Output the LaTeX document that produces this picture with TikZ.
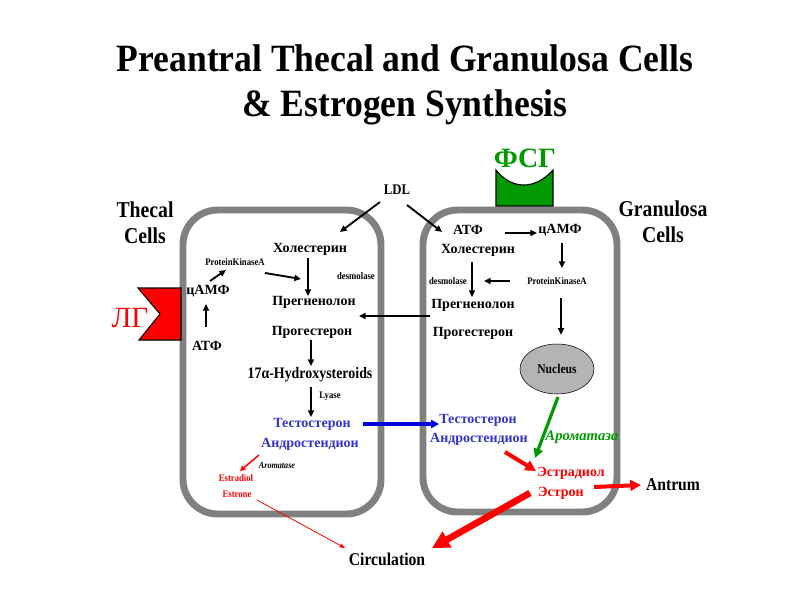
\documentclass[tikz,border=0pt]{standalone}
\usepackage{fontspec}
\setmainfont{Liberation Serif}
\newfontfamily\narrowfont[FakeStretch=0.87]{Liberation Serif}
\newfontfamily\titlefont[FakeStretch=0.92]{Liberation Serif}
\usetikzlibrary{arrows.meta,calc,shapes.geometric}
\definecolor{cellgray}{HTML}{808080}
\definecolor{hormred}{HTML}{FF0000}
\definecolor{fshgreen}{HTML}{009900}
\definecolor{steroidblue}{HTML}{3333CC}
\definecolor{arrowblue}{HTML}{0000DD}
\definecolor{nucgray}{HTML}{B4B4B4}
\tikzset{
  ru/.style={inner sep=0pt,font=\bfseries\fontsize{10.5}{12}\selectfont},
  lat/.style={inner sep=0pt,font=\narrowfont\bfseries\fontsize{12}{13}\selectfont},
  tinylat/.style={inner sep=0pt,font=\narrowfont\bfseries\fontsize{7.5}{8}\selectfont},
  heading/.style={inner sep=0pt,align=center,
                  font=\narrowfont\bfseries\fontsize{17}{19.5}\selectfont},
  cell/.style={draw=cellgray,line width=5.2pt,rounded corners=26pt},
  arr/.style={-{Triangle[length=5pt,width=4.5pt]},line width=1.4pt},
  bluearr/.style={-{Triangle[length=6pt,width=6pt]},line width=2.4pt,
                  draw=arrowblue},
  greenarr/.style={-{Triangle[length=7pt,width=7pt]},line width=2.4pt,
                   draw=fshgreen},
  redarr/.style={-{Triangle[length=8pt,width=8pt]},line width=3pt,
                 draw=hormred},
  bigredarr/.style={-{Triangle[length=13pt,width=13pt]},line width=5pt,
                    draw=hormred},
  thinredarr/.style={-{Triangle[length=4pt,width=3pt]},line width=0.6pt,
                     draw=hormred}
}
\begin{document}
\begin{tikzpicture}[x=0.75pt,y=-0.75pt]
  \useasboundingbox (0,0) rectangle (800,600);

  % title
  \node[align=center,inner sep=0pt,
        font=\titlefont\bfseries\fontsize{29}{33.75}\selectfont]
    (title) at (405,85) {Preantral Thecal and Granulosa Cells\\
                         \& Estrogen Synthesis};

  % the two cells
  \draw[cell] (183,210) rectangle (381,514);
  \draw[cell] (423,210) rectangle (617,512);
  \node[heading] (thecal) at (145,223) {Thecal\\Cells};
  \node[heading] (granulosa) at (663,222) {Granulosa\\Cells};

  % receptors
  \draw[fill=hormred,line width=0.8pt] (138,288) -- (181,288) -- (181,340)
    -- (139,340) -- (160,314) -- cycle;
  \node[inner sep=0pt,text=hormred,font=\fontsize{22}{22}\selectfont]
    (lh) at (130,318) {ЛГ};
  \draw[fill=fshgreen,line width=0.8pt] (496,206) -- (496,170)
    .. controls (512,190) and (535,190) .. (553,170) -- (553,206) -- cycle;
  \node[inner sep=0pt,text=fshgreen,font=\bfseries\fontsize{21}{21}\selectfont]
    (fsh) at (525,158) {ФСГ};

  \node[lat,font=\narrowfont\bfseries\fontsize{11}{12}\selectfont]
    (ldl) at (397,190) {LDL};

  % thecal cell
  \node[tinylat] (lpka) at (235,262) {ProteinKinaseA};
  \node[ru] (lcamp) at (208,291) {цАМФ};
  \node[ru] (latp) at (207,346) {АТФ};
  \node[ru] (lchol) at (310,249) {Холестерин};
  \node[tinylat] (ldes) at (356,276) {desmolase};
  \node[ru] (lpreg) at (314,302) {Прегненолон};
  \node[ru] (lprog) at (312,332) {Прогестерон};
  \node[lat] (lhyd) at (310,375) {17α-Hydroxysteroids};
  \node[tinylat] (llyase) at (330,396) {Lyase};
  \node[ru,text=steroidblue] (ltest) at (312,424) {Тестостерон};
  \node[ru,text=steroidblue] (landro) at (310,444) {Андростендион};
  \node[inner sep=0pt,font=\narrowfont\bfseries\itshape\fontsize{7}{8}\selectfont]
    (laro) at (277,465) {Aromatase};
  \node[inner sep=0pt,text=hormred,
        font=\narrowfont\bfseries\fontsize{7.5}{8}\selectfont]
    (lestd) at (236,478) {Estradiol};
  \node[inner sep=0pt,text=hormred,
        font=\narrowfont\bfseries\fontsize{7.5}{8}\selectfont]
    (lestn) at (237,494) {Estrone};

  % granulosa cell
  \node[ru] (ratp) at (468,230) {АТФ};
  \node[ru] (rcamp) at (560,230) {цАМФ};
  \node[ru] (rchol) at (478,250) {Холестерин};
  \node[tinylat] (rpka) at (557,281) {ProteinKinaseA};
  \node[tinylat] (rdes) at (448,281) {desmolase};
  \node[ru] (rpreg) at (473,305) {Прегненолон};
  \node[ru] (rprog) at (473,333) {Прогестерон};
  \node[ellipse,draw,fill=nucgray,minimum width=55.5pt,minimum height=37.5pt,
        inner sep=0pt,font=\narrowfont\bfseries\fontsize{10}{12}\selectfont]
    (nucleus) at (557,369) {Nucleus};
  \node[inner sep=0pt,text=fshgreen,
        font=\bfseries\itshape\fontsize{11}{12}\selectfont]
    (raro) at (582,437) {Ароматаза};
  \node[ru,text=steroidblue] (rtest) at (478,420) {Тестостерон};
  \node[ru,text=steroidblue] (randro) at (479,439) {Андростендион};
  \node[ru,text=hormred] (restd) at (571,473) {Эстрадиол};
  \node[ru,text=hormred] (restn) at (561,493) {Эстрон};

  \node[inner sep=0pt,font=\narrowfont\bfseries\fontsize{13.5}{14}\selectfont]
    (antrum) at (673,485) {Antrum};
  \node[inner sep=0pt,font=\narrowfont\bfseries\fontsize{13.5}{14}\selectfont]
    (circ) at (387,559) {Circulation};

  % connectors, thecal side
  \draw[arr] ($(ldl)+(-17,12)$) -- ($(lchol)+(30,-17)$);
  \draw[arr] ($(ldl)+(10,15)$) -- ($(rchol)+(-36,-18)$);
  \draw[arr] ($(latp)+(-1,-19)$) -- ($(lcamp)+(-2,13)$);
  \draw[arr] ($(lcamp)+(2,-10)$) -- ($(lpka)+(-9,8)$);
  \draw[arr] ($(lpka)+(30,11)$) -- ($(lpreg)+(-13,-23)$);
  \draw[arr] ($(lchol)+(-2,9)$) -- ($(lpreg)+(-6,-6)$);
  \draw[arr] ($(rpreg)!0.5!(rprog)+(-43,-3)$) -- ($(lpreg)!0.5!(lprog)+(46,-1)$);
  \draw[arr] ($(lprog)+(-1,8)$) -- ($(lhyd)+(1,-9)$);
  \draw[arr] ($(lhyd)+(1,12)$) -- ($(ltest)+(-1,-7)$);
  \draw[bluearr] ($(ltest.east)+(12,0)$) -- (rtest.west |- ltest);
  \draw[-{Triangle[length=4pt,width=4pt]},line width=1.1pt,draw=hormred]
    ($(landro)+(-51,11)$) -- ($(lestd)+(4,-7)$);
  \draw[thinredarr] ($(lestn)+(20,6)$) -- ($(circ)+(-42,-11)$);

  % connectors, granulosa side
  \draw[arr] ($(ratp)+(37,3)$) -- ($(rcamp)+(-23,3)$);
  \draw[arr] ($(rcamp)+(2,13)$) -- ($(rpka)+(5,-13)$);
  \draw[arr] ($(rpka)+(-47,0)$) -- ($(rdes)+(36,0)$);
  \draw[arr] ($(rchol)+(-6,12)$) -- ($(rpreg)+(-1,-8)$);
  \draw[arr] ($(rpka)+(4,17)$) -- ($(nucleus.north)+(4,-9)$);
  \draw[greenarr] ($(nucleus)+(1,28)$) -- ($(restd)+(-36,-15)$);
  \draw[redarr] ($(randro)+(26,13)$) -- ($(restd)+(-35,-2)$);
  \draw[redarr] ($(restn)+(33,-6)$) -- ($(antrum)+(-32,0)$);
  \draw[bigredarr] ($(restn)+(-31,0)$) -- ($(circ)+(45,-11)$);
\end{tikzpicture}
\end{document}
